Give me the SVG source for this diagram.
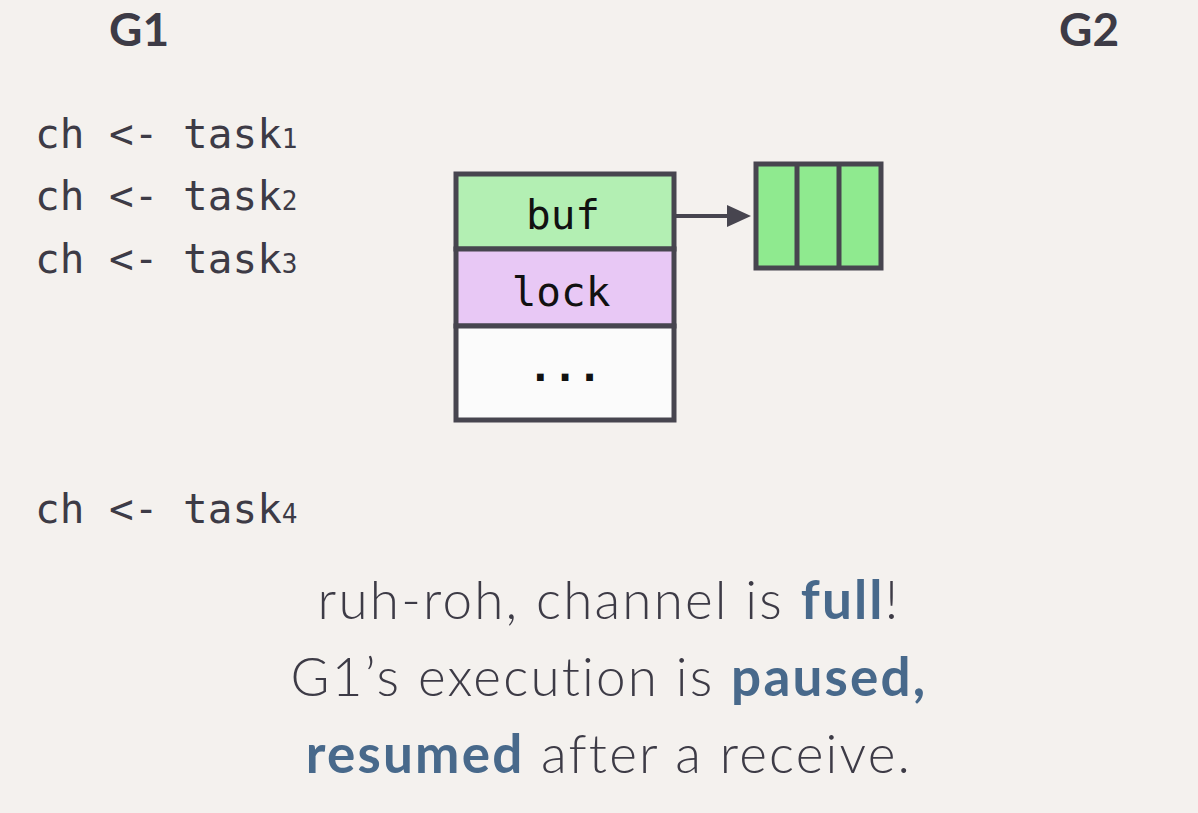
<svg xmlns="http://www.w3.org/2000/svg" width="1198" height="813" viewBox="0 0 1198 813">
<style>
.g{font-family:Lato,"Open Sans",sans-serif;font-weight:700;font-size:46px;fill:#3d3b46}
.code{font-family:"DejaVu Sans Mono","Liberation Mono",monospace;font-size:41px;fill:#3d3b46}
.sub{font-size:26px}
.cell{stroke:#47454f;stroke-width:5}
.lbl{font-family:"DejaVu Sans Mono","Liberation Mono",monospace;font-size:41px;fill:#111;text-anchor:middle}
.msg{font-family:Lato,"Open Sans",sans-serif;font-weight:300;font-size:53px;letter-spacing:2.2px;fill:#3d3b46;text-anchor:middle}
.hl{font-weight:700;fill:#48698b}
.conn{stroke:#47454f;stroke-width:4;fill:#47454f}
</style>
<rect width="1198" height="813" fill="#f4f1ee"/>
<g id="g1"><text class="g" x="109" y="46">G1</text></g>
<g id="g2"><text class="g" x="1059" y="46">G2</text></g>
<g id="code">
<text class="code" x="35" y="148">ch &lt;- task<tspan class="sub">1</tspan></text>
<text class="code" x="35" y="210">ch &lt;- task<tspan class="sub">2</tspan></text>
<text class="code" x="35" y="273">ch &lt;- task<tspan class="sub">3</tspan></text>
<text class="code" x="35" y="523">ch &lt;- task<tspan class="sub">4</tspan></text>
</g>
<g id="channel">
<rect class="cell" x="456" y="174" width="218" height="75" fill="#b3efb3"/>
<rect class="cell" x="456" y="249" width="218" height="77" fill="#e8c8f5"/>
<rect class="cell" x="456" y="326" width="218" height="94" fill="#fbfbfb"/>
<text class="lbl" x="563" y="229">buf</text>
<text class="lbl" x="561" y="306">lock</text>
<text class="lbl" x="565" y="381" font-weight="700">...</text>
</g>
<g id="buffer">
<rect class="cell" x="756" y="164" width="125" height="104" fill="#8fea8f"/>
<line class="cell" x1="797" y1="164" x2="797" y2="268"/>
<line class="cell" x1="839" y1="164" x2="839" y2="268"/>
</g>
<g id="connectors">
<line class="conn" x1="676" y1="216" x2="730" y2="216"/>
<polygon points="727,205 751,216 727,227" fill="#47454f"/>
</g>
<g id="message">
<text class="msg" x="609" y="619">ruh-roh, channel is <tspan class="hl">full</tspan>!</text>
<text class="msg" x="609" y="696">G1’s execution is <tspan class="hl">paused,</tspan></text>
<text class="msg" x="609" y="773"><tspan class="hl">resumed</tspan> after a receive.</text>
</g>
</svg>
